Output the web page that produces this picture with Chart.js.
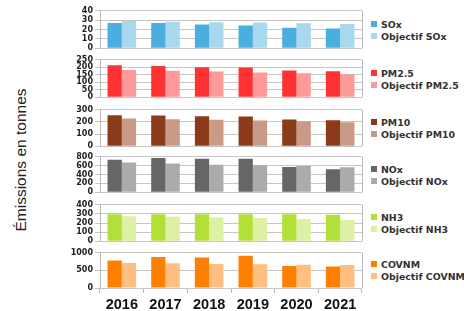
<!DOCTYPE html>
<html>
  <head>
    <title>Emissions par polluant</title>
    <script src="https://cdn.jsdelivr.net/npm/chart.js@4/dist/chart.umd.min.js"></script>
    <style>
      body { margin: 0; background: #fff; width: 464px; height: 311px; overflow: hidden; position: relative; }
      canvas { position: absolute; left: 60px; }
      .ytitle { position: absolute; left: 21px; top: 160px; transform: translate(-50%, -50%) rotate(-90deg);
        font: 15.5px "Liberation Sans", Arial, sans-serif; color: #222; white-space: nowrap; }
      .leg { position: absolute; left: 371px; font: bold 9.4px "DejaVu Sans", sans-serif; color: #333; white-space: nowrap; }
      .leg span { display: inline-block; width: 6px; height: 6px; margin-right: 4px; vertical-align: 1px; }
    </style>
  </head>
  <body>
    <div class="ytitle">Émissions en tonnes</div>
    <div id="charts"></div>

    <script>
      const years = ['2016', '2017', '2018', '2019', '2020', '2021']

      const panelNames = ['SOx', 'PM2.5', 'PM10', 'NOx', 'NH3', 'COVNM']
      const axisMax = [40, 250, 300, 800, 400, 1000]
      const axisStep = [10, 50, 100, 200, 100, 500]

      const soxValues = [27, 27, 25.3, 24.3, 21.9, 21.2]
      const soxTarget = [29, 28.4, 27.7, 27.4, 26.7, 26]
      const pm25Values = [214, 209, 201, 199, 179, 173]
      const pm25Target = [182, 177, 171, 165, 160, 154]
      const pm10Values = [255, 252, 247, 244, 220, 214]
      const pm10Target = [228, 222, 217, 212, 206, 198]
      const noxValues = [736, 771, 757, 757, 571, 521]
      const noxTarget = [671, 650, 621, 607, 593, 564]
      const nh3Values = [296, 296, 296, 296, 296, 292]
      const nh3Target = [275, 268, 261, 254, 243, 237]
      const covnmValues = [782, 882, 864, 918, 627, 609]
      const covnmTarget = [709, 700, 682, 673, 664, 655]

      const seriesValues = [soxValues, pm25Values, pm10Values, noxValues, nh3Values, covnmValues]
      const seriesTarget = [soxTarget, pm25Target, pm10Target, noxTarget, nh3Target, covnmTarget]

      // colours: [measured, objective]
      const colors = [
        ['#4aaedf', '#a8d8ee'],
        ['#ff3333', '#ff9a9a'],
        ['#8b3a1a', '#c99a86'],
        ['#666666', '#ababab'],
        ['#b2df38', '#ddf0a4'],
        ['#ff8000', '#ffbf80']
      ]
      // plot area top / bottom for each panel (page pixels)
      const plotTop = [10, 59, 109, 156, 204, 252]
      const plotBottom = [49, 98, 147, 193, 242, 288]

      // right border of the plot area
      const frame = {
        id: 'frame',
        beforeDatasetsDraw(chart) {
          const { ctx, chartArea: a } = chart
          ctx.save()
          ctx.strokeStyle = '#b8b8b8'
          ctx.lineWidth = 1
          ctx.beginPath()
          ctx.moveTo(Math.round(a.right) + 0.5, a.top)
          ctx.lineTo(Math.round(a.right) + 0.5, a.bottom)
          ctx.stroke()
          ctx.restore()
        }
      }

      const holder = document.getElementById('charts')

      panelNames.forEach((name, i) => {
        const last = i === panelNames.length - 1
        const xHeight = 24
        const canvas = document.createElement('canvas')
        canvas.width = 304
        canvas.height = (plotBottom[i] - plotTop[i]) + 6 + (last ? xHeight : 6)
        canvas.style.top = (plotTop[i] - 6) + 'px'
        holder.appendChild(canvas)

        new Chart(canvas, {
          type: 'bar',
          data: {
            labels: years,
            datasets: [
              { label: name, data: seriesValues[i], backgroundColor: colors[i][0], stack: 'a' },
              { label: 'Objectif ' + name, data: seriesTarget[i], backgroundColor: colors[i][1], stack: 'b' }
            ]
          },
          options: {
            responsive: false,
            animation: false,
            devicePixelRatio: 1,
            categoryPercentage: 0.655,
            barPercentage: 1.0,
            layout: { padding: { top: 6, bottom: last ? 0 : 6, left: 0, right: 2 } },
            plugins: { legend: { display: false }, tooltip: { enabled: false } },
            scales: {
              x: {
                display: last,
                grid: { drawOnChartArea: false, drawTicks: true, tickLength: 5, offset: true, color: '#b8b8b8' },
                border: { display: false },
                ticks: { color: '#111', padding: 3, font: { family: 'Liberation Sans', size: 14.5, weight: 'bold' } },
                afterFit: s => { if (last) s.height = xHeight }
              },
              y: {
                stacked: false,
                min: 0,
                max: axisMax[i],
                ticks: { stepSize: axisStep[i], autoSkip: false, color: '#222', padding: 2,
                  font: { family: 'DejaVu Sans', size: 8, weight: 'bold' },
                  callback: v => String(v) },
                grid: { color: '#c6c6c6', tickLength: 5 },
                border: { color: '#b8b8b8' },
                afterFit: s => { s.width = 40 }
              }
            }
          },
          plugins: [frame]
        })

        // legend for the panel
        const mid = (plotTop[i] + plotBottom[i]) / 2 + 2
        ;[0, 1].forEach(k => {
          const div = document.createElement('div')
          div.className = 'leg'
          div.style.top = (mid - 13 + k * 12) + 'px'
          div.innerHTML = '<span style="background:' + colors[i][k] + '"></span>' + (k ? 'Objectif ' + name : name)
          document.body.appendChild(div)
        })
      })
    </script>
  </body>
</html>
